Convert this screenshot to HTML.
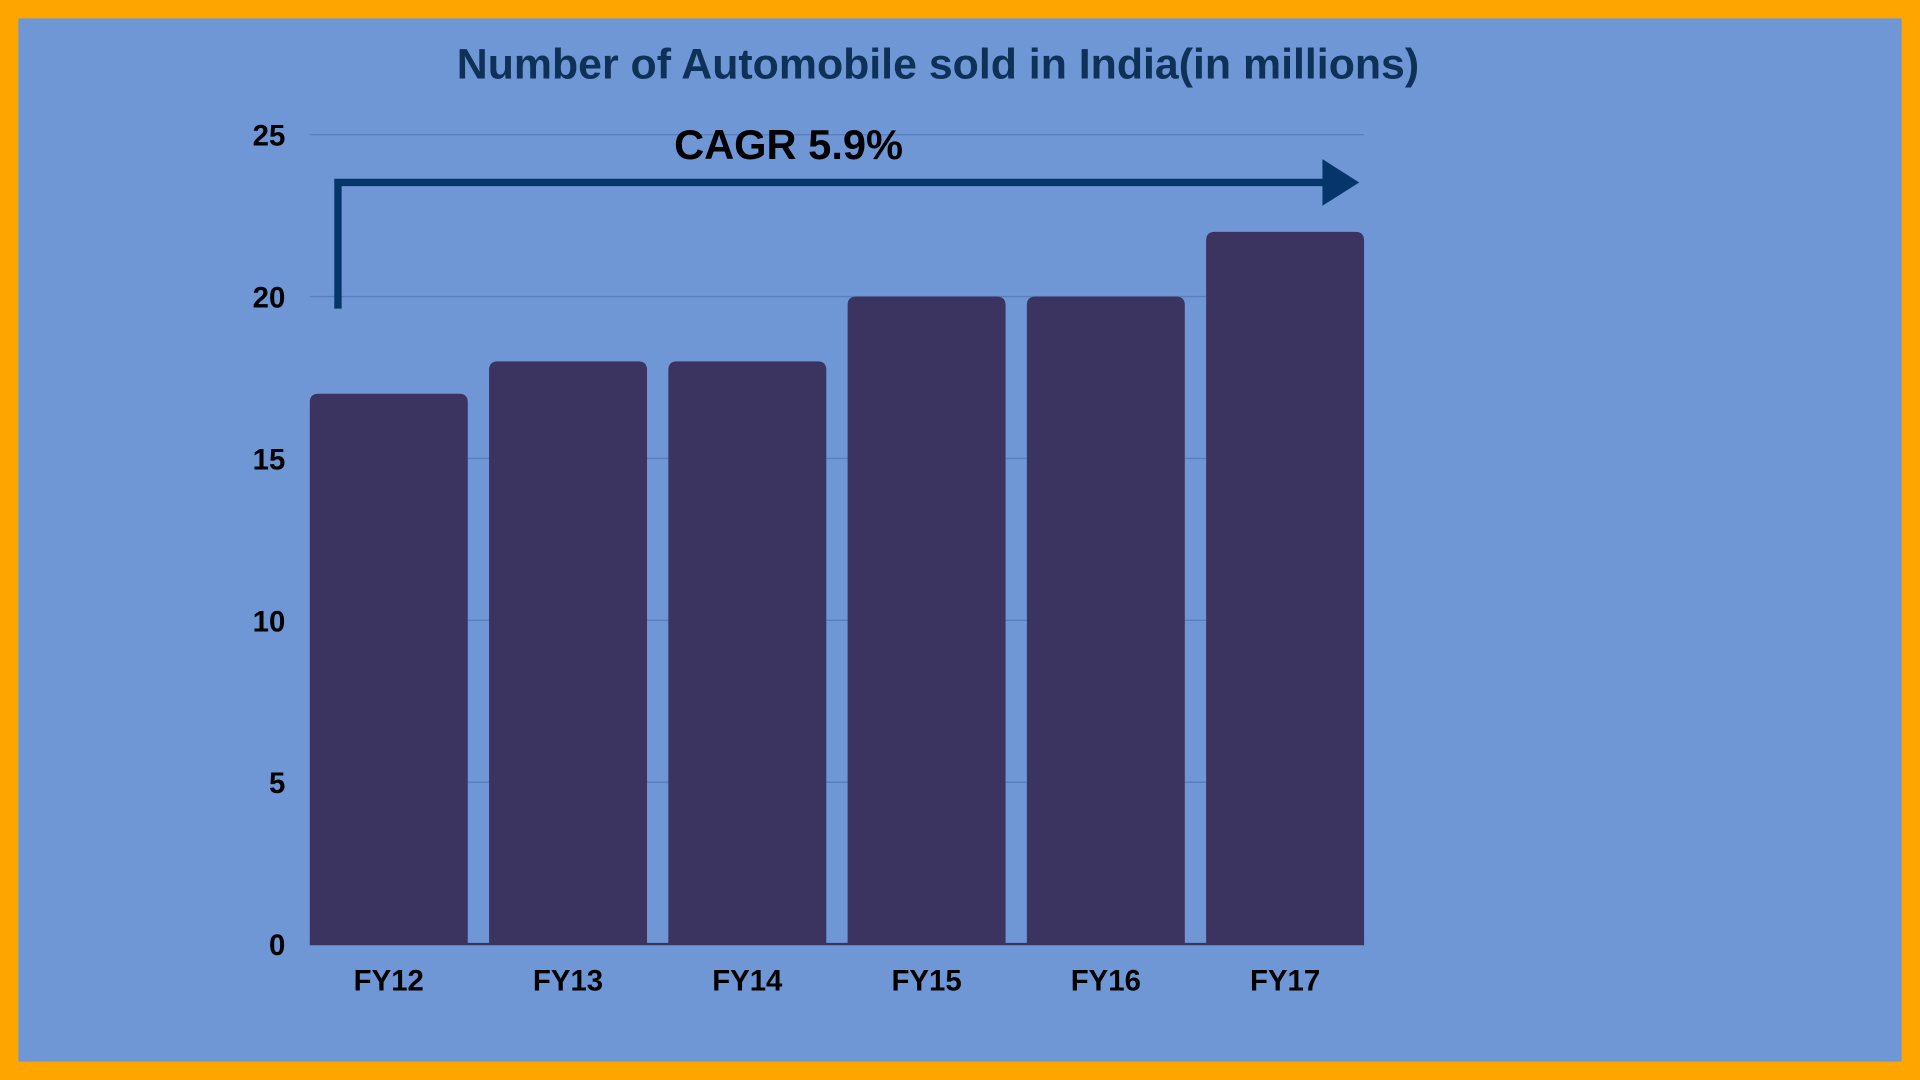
<!DOCTYPE html>
<html><head><meta charset="utf-8"><style>
html,body{margin:0;padding:0;width:1920px;height:1080px;overflow:hidden;background:#ffa500}
svg{display:block}
text{font-family:"Liberation Sans",sans-serif;font-weight:bold}
</style></head><body>
<svg id="chart" width="1920" height="1080" viewBox="0 0 1568 882" xmlns="http://www.w3.org/2000/svg">
<rect x="0" y="0" width="1568" height="882" fill="#ffa500"/>
<rect x="15" y="15" width="1538" height="852" fill="#6f97d5"/>
<text x="766" y="64" text-anchor="middle" font-size="35" fill="#0e3158">Number of Automobile sold in India(in millions)</text>
<g id="grid"></g>
<g id="yticks"></g>
<g id="bars"></g>
<g id="xticks"></g>
<g>
<path d="M276 252 V149 H1084" fill="none" stroke="#06356b" stroke-width="6"/>
<polygon points="1080,130 1110,149 1080,168" fill="#06356b"/>
</g>
<text x="644" y="130" text-anchor="middle" font-size="34" fill="#000">CAGR 5.9%</text>
</svg>
<script>
const categories=["FY12","FY13","FY14","FY15","FY16","FY17"];
const values=[17,18,18,20,20,22];
const yTicks=[0,5,10,15,20,25];
const NS="http://www.w3.org/2000/svg";
const x0=253,step=146.4,bw=129,yBase=771,yTop=110,yMax=25;
function y(v){return yBase-(v/yMax)*(yBase-yTop);}
function x(i){return x0+i*step;}
const grid=document.getElementById('grid'),yt=document.getElementById('yticks'),bars=document.getElementById('bars'),xt=document.getElementById('xticks');
yTicks.forEach(t=>{
  const l=document.createElementNS(NS,'line');
  
  
  l.setAttribute('x1',x0);l.setAttribute('x2',1114);l.setAttribute('y1',y(t));l.setAttribute('y2',y(t));
  l.setAttribute('stroke',t===0?'#3b3460':'#5a7fbd');l.setAttribute('stroke-width',t===0?2:1.2);
  grid.appendChild(l);
  const tx=document.createElementNS(NS,'text');
  
  
  tx.setAttribute('x',233);tx.setAttribute('y',y(t)+9);tx.setAttribute('text-anchor','end');tx.setAttribute('font-size','24');tx.setAttribute('fill','#000');
  tx.textContent=t;yt.appendChild(tx);
});
categories.forEach((c,i)=>{
  const top=y(values[i]),h=yBase-top,r=7;
  const p=document.createElementNS(NS,'path');
  
  
  const L=x(i),R=x(i)+bw;
  p.setAttribute('d',`M${L} ${yBase} V${top+r} Q${L} ${top} ${L+r} ${top} H${R-r} Q${R} ${top} ${R} ${top+r} V${yBase} Z`);
  p.setAttribute('fill','#3b3460');
  bars.appendChild(p);
  const tx=document.createElementNS(NS,'text');
  
  
  tx.setAttribute('x',L+bw/2);tx.setAttribute('y',809);tx.setAttribute('text-anchor','middle');tx.setAttribute('font-size','24');tx.setAttribute('fill','#000');
  tx.textContent=c;xt.appendChild(tx);
});
</script>
</body></html>
